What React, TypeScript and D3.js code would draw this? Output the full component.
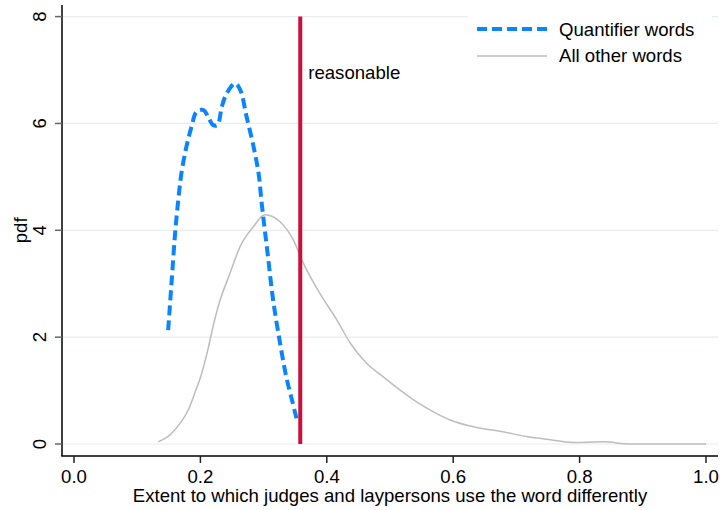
import { useEffect, useRef } from 'react';
import * as d3 from 'd3';

// kernel density of the "quantifier words" group (x = extent, y = pdf)
const QUANT_X = [0.149, 0.155, 0.16, 0.165, 0.17, 0.178, 0.186, 0.194, 0.205, 0.212, 0.22, 0.227, 0.234, 0.242, 0.255, 0.263, 0.273, 0.284, 0.292, 0.297, 0.302, 0.307, 0.315, 0.326, 0.336, 0.345, 0.352];
const QUANT_Y = [2.13, 3.13, 3.95, 4.57, 5.07, 5.57, 5.94, 6.22, 6.25, 6.13, 5.97, 5.97, 6.32, 6.57, 6.75, 6.63, 6.13, 5.57, 5.07, 4.5, 4.0, 3.5, 2.7, 1.89, 1.25, 0.82, 0.48];

// kernel density of all other words
const OTHER_X = [0.133, 0.152, 0.168, 0.181, 0.191, 0.202, 0.2125, 0.22, 0.228, 0.247, 0.263, 0.284, 0.302, 0.326, 0.347, 0.363, 0.389, 0.416, 0.437, 0.463, 0.489, 0.516, 0.542, 0.574, 0.595, 0.637, 0.674, 0.716, 0.748, 0.79, 0.838, 0.88, 0.959, 1.0];
const OTHER_Y = [0.04, 0.17, 0.39, 0.64, 0.95, 1.32, 1.8, 2.2, 2.57, 3.2, 3.7, 4.07, 4.29, 4.16, 3.82, 3.38, 2.82, 2.32, 1.89, 1.51, 1.26, 1.01, 0.79, 0.57, 0.45, 0.31, 0.24, 0.14, 0.09, 0.03, 0.04, 0.0, 0.0, 0.0];

const X_TICKS = [0, 0.2, 0.4, 0.6, 0.8, 1.0];
const Y_TICKS = [0, 2, 4, 6, 8];
const REASONABLE = 0.358;

const W = 720;
const H = 510;
const FONT = '"Liberation Sans", Arial, Helvetica, sans-serif';
const FS = 18.6;
const BLUE = '#0a84ff';
const GREY = '#bdbdbd';
const RED = '#c8103a';

export default function App() {
  const ref = useRef<SVGSVGElement>(null);

  useEffect(() => {
    if (!ref.current) return;
    const svg = d3.select(ref.current);
    svg.selectAll('*').remove();

    const x = d3.scaleLinear().domain([0, 1]).range([74, 706]);
    const y = d3.scaleLinear().domain([0, 8]).range([444, 16.6]);
    const axisLeft = 62;
    const axisBottom = 456;
    const right = 718;

    svg.append('rect').attr('width', W).attr('height', H).attr('fill', '#fff');

    // gridlines
    svg.append('g')
      .selectAll('line')
      .data(Y_TICKS)
      .join('line')
      .attr('x1', axisLeft)
      .attr('x2', right)
      .attr('y1', d => y(d))
      .attr('y2', d => y(d))
      .attr('stroke', '#e8eef0')
      .attr('stroke-width', 1.2);

    // legend box (white, hides the top gridline behind it)
    svg.append('rect')
      .attr('x', 468).attr('y', 4).attr('width', 244).attr('height', 70)
      .attr('fill', '#fff');

    const pts = (xs: number[], ys: number[]) => xs.map((v, i) => [v, ys[i]] as [number, number]);
    const line = d3.line<[number, number]>()
      .x(d => x(d[0]))
      .y(d => y(d[1]));

    svg.append('path')
      .attr('d', line.curve(d3.curveMonotoneX)(pts(OTHER_X, OTHER_Y)))
      .attr('fill', 'none')
      .attr('stroke', GREY)
      .attr('stroke-width', 1.5);

    svg.append('path')
      .attr('d', line.curve(d3.curveCatmullRom)(pts(QUANT_X, QUANT_Y)))
      .attr('fill', 'none')
      .attr('stroke', BLUE)
      .attr('stroke-width', 4)
      .attr('stroke-dasharray', '10,5');

    // vertical marker for "reasonable"
    svg.append('line')
      .attr('x1', x(REASONABLE)).attr('x2', x(REASONABLE))
      .attr('y1', y(0)).attr('y2', y(8))
      .attr('stroke', RED)
      .attr('stroke-width', 4);

    svg.append('text')
      .attr('x', x(REASONABLE) + 8).attr('y', 79)
      .attr('font-family', FONT).attr('font-size', FS)
      .text('reasonable');

    // axes
    svg.append('line')
      .attr('x1', axisLeft).attr('x2', axisLeft).attr('y1', 5).attr('y2', axisBottom)
      .attr('stroke', '#000').attr('stroke-width', 1.5);
    svg.append('line')
      .attr('x1', axisLeft - 0.75).attr('x2', right).attr('y1', axisBottom).attr('y2', axisBottom)
      .attr('stroke', '#000').attr('stroke-width', 1.5);

    const yt = svg.append('g').selectAll('g').data(Y_TICKS).join('g')
      .attr('transform', d => `translate(0,${y(d)})`);
    yt.append('line').attr('x1', axisLeft - 7).attr('x2', axisLeft)
      .attr('stroke', '#666').attr('stroke-width', 1.5);
    yt.append('text')
      .attr('transform', 'translate(46,0) rotate(-90)')
      .attr('text-anchor', 'middle')
      .attr('font-family', FONT).attr('font-size', FS)
      .text(d => String(d));

    const xt = svg.append('g').selectAll('g').data(X_TICKS).join('g')
      .attr('transform', d => `translate(${x(d)},0)`);
    xt.append('line').attr('y1', axisBottom).attr('y2', axisBottom + 7)
      .attr('stroke', '#222').attr('stroke-width', 1.5);
    xt.append('text')
      .attr('y', 483)
      .attr('text-anchor', 'middle')
      .attr('font-family', FONT).attr('font-size', FS)
      .text(d => d3.format('.1f')(d));

    svg.append('text')
      .attr('x', 390).attr('y', 502)
      .attr('text-anchor', 'middle')
      .attr('font-family', FONT).attr('font-size', FS)
      .text('Extent to which judges and laypersons use the word differently');

    svg.append('text')
      .attr('transform', `translate(27,${y(4)}) rotate(-90)`)
      .attr('text-anchor', 'middle')
      .attr('font-family', FONT).attr('font-size', FS)
      .text('pdf');

    // legend
    const lg = svg.append('g');
    lg.append('line').attr('x1', 477).attr('x2', 547).attr('y1', 29).attr('y2', 29)
      .attr('stroke', BLUE).attr('stroke-width', 4).attr('stroke-dasharray', '10,5');
    lg.append('line').attr('x1', 477).attr('x2', 547).attr('y1', 56).attr('y2', 56)
      .attr('stroke', GREY).attr('stroke-width', 1.5);
    lg.append('text').attr('x', 559).attr('y', 36)
      .attr('font-family', FONT).attr('font-size', FS).text('Quantifier words');
    lg.append('text').attr('x', 559).attr('y', 62)
      .attr('font-family', FONT).attr('font-size', FS).text('All other words');
  }, []);

  return (
    <div style={{ position: 'fixed', left: 0, top: 0, width: W, height: H }}>
      <svg ref={ref} width={W} height={H} style={{ display: 'block' }} />
    </div>
  );
}
